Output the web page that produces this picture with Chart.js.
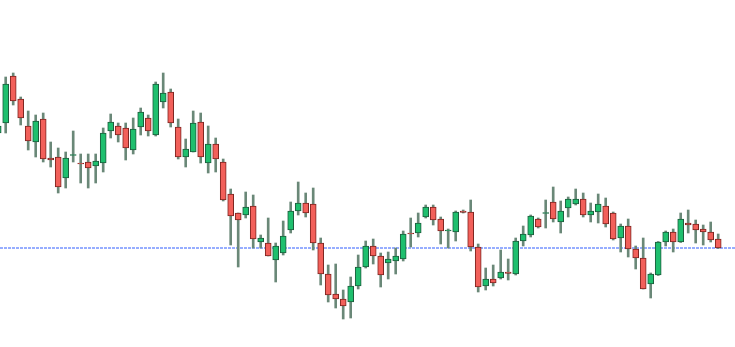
<!DOCTYPE html>
<html>
<head>
<meta charset="utf-8">
<script src="https://cdn.jsdelivr.net/npm/chart.js@4/dist/chart.umd.min.js"></script>
<style>
  html, body { margin: 0; padding: 0; background: #ffffff; }
  #wrap { width: 735px; height: 347px; position: relative; }
</style>
</head>
<body>
<div id="wrap"><canvas id="candles"></canvas></div>
<script>
// OHLC series (arbitrary price units)
var opens = [214,224,271,248,221,205,228,189,190,169,191.5,184,185,181,184,216,221,219,197,220,
	229,212,245,255,220,190,195,225,184,203,185,153,134,132,141,105,104,87,94,117,
	136,144,143,104,73,53,48,45,61,80,101,91,84,86,88,114,114,130,140,128,
	116,115,136,135,100,61,68,69,75,73,106,112,128,133.5,145,125,139,143,148,132,
	135,141,134,109,121,98,89,63,72,105,115,105,124,123,118,115,108];
var highs = [227,270,274,250,236,232,234,205,199,195,216,193,193,193,219,233,224,224,229,239,
	232,265,274,258,228,208,236,234,221,209,188,158,134,155,152,112,129,104,126,145,
	165,154,159,109,82,83,57,70,92,106,108,94,95,99,116,129,134,142,142,130,
	118,136,137,147,103,79,82,97,88,109,121,132,129,147,160,146,150,158,154,144,
	153,149,135,123,128,101,109,74,105.5,116,118,134,137,127,122,125,113];
var lows = [210,214,242,222,197,190,185,180,154,159,185,164,159,164,175,209,205,187,193,212,
	211,211,239,220,188,180,195,184,174,175,146,102,80,129,99,99,91,65,92,114,
	132,130,97,62,45,39,28,29,58,79,83,60,68,73,86,100,110,129,122,103,
	99,106,134,96,55,57,61,68,67,72,101,110,119,119,125,114,130,142,130,125,
	124,120,107,95,90,78,58,49,71.5,101,95,104.5,114,104,102,105,98.5];
var closes = [221,263,246,229,206,226,188,187,160,189,192.5,183,179,186,214,225,212,199,218,235,
	216,263,254,224,190,198,224,190,203,188,147,131,127,140,108,109,91,101,111,136,
	144,134,104,73,52,48,41,61,80,101,91,72,88,91,113,113,124,140,127,116,
	117,135,134.5,100,60,68,64,75,73.5,106,113,131,120,134.5,128,136,148,148,132,136,
	143,123,108,121,98,89,58,73,105,115,105,128,122,117,115,107,99];

var lastPrice = closes[closes.length - 1];

var bodies = [];
var wicks = [];
var upColor = [];
var upBorder = [];
for (var i = 0; i < opens.length; i++) {
	bodies.push({ x: i, y: [opens[i], closes[i]] });
	wicks.push({ x: i, y: [lows[i], highs[i]] });
	var up = closes[i] >= opens[i];
	upColor.push(up ? '#1fbf6e' : '#f2605a');
	upBorder.push(up ? '#1d5c3c' : '#7d2420');
}

var xMin = 0.24;
var xMax = xMin + 98;

var chartdata = {
	datasets: [
		{
			type: 'bar',
			label: 'Body',
			data: bodies,
			backgroundColor: upColor,
			borderColor: upBorder,
			borderWidth: 1,
			borderSkipped: false,
			barThickness: 6,
			grouped: false,
			order: 1
		},
		{
			type: 'bar',
			label: 'Wick',
			data: wicks,
			backgroundColor: '#6a8878',
			borderWidth: 0,
			barThickness: 2,
			grouped: false,
			order: 2
		},
		{
			type: 'line',
			label: 'Last',
			data: [{ x: xMin, y: lastPrice }, { x: xMax, y: lastPrice }],
			borderColor: '#2f5cff',
			borderWidth: 1,
			borderDash: [3, 1],
			pointRadius: 0,
			fill: false,
			order: 3
		}
	]
};

new Chart(document.getElementById('candles'), {
	type: 'bar',
	data: chartdata,
	options: {
		responsive: true,
		maintainAspectRatio: false,
		animation: false,
		layout: { padding: 0 },
		plugins: {
			legend: { display: false },
			tooltip: { enabled: false }
		},
		scales: {
			x: { type: 'linear', min: xMin, max: xMax, display: false, offset: false },
			y: { min: 0, max: 347, display: false }
		}
	}
});
</script>
</body>
</html>
